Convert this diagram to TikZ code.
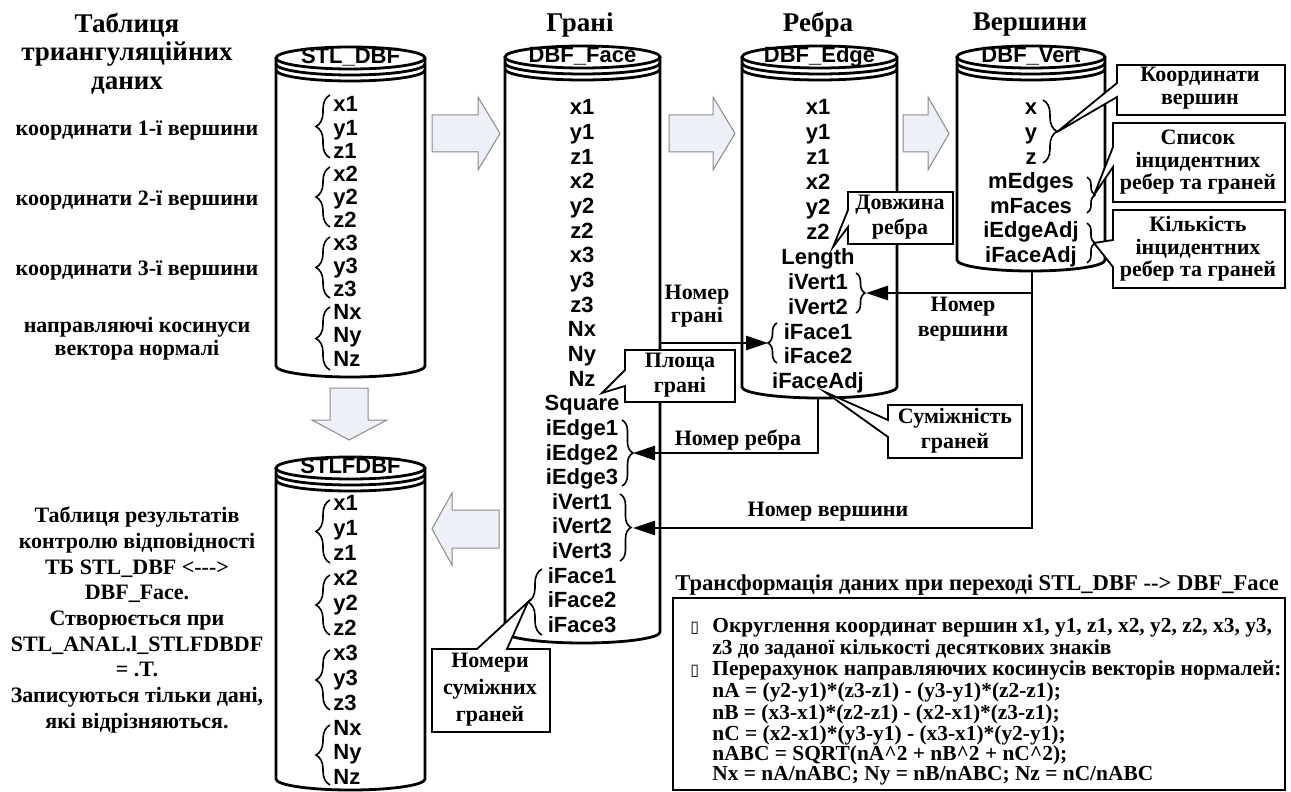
\documentclass[tikz,border=0pt]{standalone}
\usepackage{fontspec}
\setmainfont{Liberation Serif}
\setsansfont{Liberation Sans}
\newfontfamily\symfont{DejaVu Sans}
\usetikzlibrary{arrows.meta,decorations.pathreplacing}
\definecolor{blockfill}{HTML}{EDF1F7}
\definecolor{blockline}{HTML}{8A8A8A}
\tikzset{
  cyl/.style={line width=1.4pt},
  rowtxt/.style={font=\fontsize{11}{12}\selectfont\sffamily\bfseries, inner sep=0pt, text height=7.9pt, text depth=0pt},
  head/.style={font=\fontsize{13.5}{14.25}\selectfont\bfseries, inner sep=0pt, align=center},
  lbl/.style={font=\fontsize{11}{11.5}\selectfont\bfseries, inner sep=0pt, align=center},
  lblone/.style={font=\fontsize{11}{11.5}\selectfont\bfseries, inner sep=0pt, text height=7.3pt, text depth=0pt},
  ftxt/.style={font=\fontsize{10.7}{11}\selectfont\bfseries, inner sep=0pt, anchor=west, text height=7.1pt, text depth=0pt},
  callout/.style={draw, fill=white, line width=0.9pt, line join=miter},
  conn/.style={line width=1.4pt, -{Triangle[length=11pt,width=7pt]}},
  blockarrow/.style={draw=blockline, fill=blockfill, line width=0.5pt},
  brc/.style={decorate, decoration={brace, amplitude=#1}, line width=0.8pt},
}
\newcommand\dbcyl[6]{%
  \pgfmathsetmacro\cylcx{(#2+#3)/2}%
  \pgfmathsetmacro\cylrx{(#3-#2)/2}%
  \draw[cyl, fill=white] (#2,#4) -- (#2,#5) arc[start angle=180, end angle=0, x radius=\cylrx, y radius=11] -- (#3,#4);
  \draw[cyl, fill=white] (\cylcx,#4) ellipse [x radius=\cylrx, y radius=11];
  \draw[cyl] (#2,#4+6) arc[start angle=180, end angle=0, x radius=\cylrx, y radius=11];
  \draw[cyl] (#2,#4+12) arc[start angle=180, end angle=0, x radius=\cylrx, y radius=11];
  \node[rowtxt] (#1) at (\cylcx,#4-2) {#6};
}
\begin{document}
\begin{tikzpicture}[x=0.5pt,y=-0.5pt]
\useasboundingbox (0,0) rectangle (1291,792);

% ---------- block arrows ----------
\draw[blockarrow] (432,115) -- (478,115) -- (478,97) -- (500,133.5) -- (478,170) -- (478,152) -- (432,152) -- cycle;
\draw[blockarrow] (669,115) -- (713,115) -- (713,97) -- (735,133.5) -- (713,170) -- (713,152) -- (669,152) -- cycle;
\draw[blockarrow] (903,115) -- (928,115) -- (928,97) -- (949,133.5) -- (928,170) -- (928,152) -- (903,152) -- cycle;
\draw[blockarrow] (330,388) -- (368,388) -- (368,420) -- (387,420) -- (349,440) -- (312,420) -- (330,420) -- cycle;
\draw[blockarrow] (499,510) -- (452,510) -- (452,493) -- (432,529) -- (452,565) -- (452,548) -- (499,548) -- cycle;

% ---------- headings ----------
\node[head] (hTab) at (127,53.5) {Таблиця\\триангуляційних\\даних};
\node[head] (hFace) at (580,25) {Грані};
\node[head] (hEdge) at (818,25) {Ребра};
\node[head] (hVert) at (1030,25) {Вершини};

% ---------- side labels ----------
\node[lblone] (l1) at (137,128) {координати 1-ї вершини};
\node[lblone] (l2) at (137,198) {координати 2-ї вершини};
\node[lblone] (l3) at (137,268) {координати 3-ї вершини};
\node[lbl] (l4) at (137,338.5) {направляючі косинуси\\вектора нормалі};
\node[lbl, font=\fontsize{11}{12.85}\selectfont\bfseries] (lres) at (137,620)
  {Таблиця результатів\\контролю відповідності\\ТБ STL\_DBF <-{}-{}->\\DBF\_Face.\\Створюється при\\STL\_ANAL.l\_STLFDBDF\\= .T.\\Записуються тільки дані,\\які відрізняються.};

% ---------- connector end points ----------
\coordinate (edgebot) at (818,398);
\coordinate (vertbot) at (1032,271);
\coordinate (vertbranch) at (1032,293);
\coordinate (faceside) at (660,343);
\coordinate (tipFaceEdge) at (633,453);
\coordinate (tipFaceVert) at (633,528);
\coordinate (tipEdgeVert) at (866,293);
\coordinate (tipEdgeFace) at (768,343);

% ---------- cylinders ----------
\dbcyl{cSTL}{276}{425}{58}{366}{STL\_DBF}
\dbcyl{cFDBF}{276}{425}{468}{779}{STLFDBF}
\dbcyl{cFace}{505}{660}{57}{632}{DBF\_Face}
\dbcyl{cEdge}{742}{897}{57}{387}{DBF\_Edge}
\dbcyl{cVert}{957}{1105}{57}{260}{DBF\_Vert}

\draw[conn] (edgebot) |- (tipFaceEdge);
\draw[conn] (vertbot) |- (tipFaceVert);
\draw[conn] (vertbranch) -- (tipEdgeVert);
\draw[conn] (faceside) -- (tipEdgeFace);

% ---------- rows ----------
\foreach \t [count=\i from 0] in {x1,y1,z1,x2,y2,z2,x3,y3,z3,Nx,Ny,Nz}
  \node[rowtxt, anchor=west] (stl\i) at (333,104+23.1*\i) {\t};
\foreach \t [count=\i from 0] in {x1,y1,z1,x2,y2,z2,x3,y3,z3,Nx,Ny,Nz}
  \node[rowtxt, anchor=west] (fdbf\i) at (333,503+24.9*\i) {\t};
\foreach \t [count=\i from 0] in {x1,y1,z1,x2,y2,z2,x3,y3,z3,Nx,Ny,Nz,Square,iEdge1,iEdge2,iEdge3,iVert1,iVert2,iVert3,iFace1,iFace2,iFace3}
  \node[rowtxt] (face\i) at (582,107+24.65*\i) {\t};
\foreach \t [count=\i from 0] in {x1,y1,z1,x2,y2,z2,Length,iVert1,iVert2,iFace1,iFace2,iFaceAdj}
  \node[rowtxt] (edge\i) at (818,107+24.9*\i) {\t};
\foreach \t [count=\i from 0] in {x,y,z,mEdges,mFaces,iEdgeAdj,iFaceAdj}
  \node[rowtxt] (vert\i) at (1031,107+24.6*\i) {\t};

% ---------- braces ----------
\draw[brc=7pt] (330,158) -- (330,95);
\draw[brc=7pt] (330,227) -- (330,167);
\draw[brc=7pt] (330,298) -- (330,237);
\draw[brc=7pt] (330,370) -- (330,307);
\draw[brc=7pt] (330,563) -- (330,500);
\draw[brc=7pt] (330,635) -- (330,575);
\draw[brc=7pt] (330,710) -- (330,650);
\draw[brc=7pt] (330,785) -- (330,725);
\draw[brc=5.5pt] (622,420) -- (622,486);
\draw[brc=5.5pt] (620,494) -- (620,561);
\draw[brc=7pt] (542,635) -- (542,569);
\draw[brc=4.5pt] (856,273) -- (856,313);
\draw[brc=4.5pt] (777,363) -- (777,323);
\draw[brc=7pt] (1043,100) -- (1043,163);
\draw[brc=4pt] (1087,177) -- (1087,213);
\draw[brc=4pt] (1087,223) -- (1087,263);

% ---------- callouts ----------
\draw[callout] (1117,65) -- (1285,65) -- (1285,115) -- (1117,115) -- (1117,97) -- (1057,132) -- (1117,83) -- cycle;
\node[lbl] (cCoord) at (1200,88.5) {Координати\\вершин};
\draw[callout] (1113,123) -- (1285,123) -- (1285,202) -- (1113,202) -- (1113,167) -- (1094,195) -- (1113,147) -- cycle;
\node[lbl, font=\fontsize{11}{11.25}\selectfont\bfseries] (cList) at (1198,162.5) {Список\\інцидентних\\ребер та граней};
\draw[callout] (1113,210) -- (1285,210) -- (1285,288) -- (1113,288) -- (1113,267) -- (1094,243) -- (1113,240) -- cycle;
\node[lbl, font=\fontsize{11}{11.25}\selectfont\bfseries] (cCount) at (1198,249) {Кількість\\інцидентних\\ребер та граней};
\draw[callout] (848,192) -- (953,192) -- (953,244) -- (848,244) -- (848,227) -- (833,247) -- (848,210) -- cycle;
\node[lbl, font=\fontsize{11}{12.5}\selectfont\bfseries] (cLen) at (900,217.5) {Довжина\\ребра};
\draw[callout] (625,350) -- (735,350) -- (735,402) -- (625,402) -- (625,386) -- (602,393) -- (625,370) -- cycle;
\node[lbl, font=\fontsize{11}{12.5}\selectfont\bfseries] (cSq) at (680,375.5) {Площа\\грані};
\draw[callout] (888,405) -- (1022,405) -- (1022,458) -- (888,458) -- (888,437) -- (825,392) -- (888,420) -- cycle;
\node[lbl, font=\fontsize{11}{12.5}\selectfont\bfseries] (cAdj) at (955,430.5) {Суміжність\\граней};
\draw[callout] (432,649) -- (477,649) -- (528,602) -- (507,649) -- (550,649) -- (550,732) -- (432,732) -- cycle;
\node[lbl, font=\fontsize{11}{13.5}\selectfont\bfseries] (cNbr) at (490,690) {Номери\\суміжних\\граней};

% ---------- connector labels ----------
\node[lbl] (tFace) at (697,306.5) {Номер\\грані};
\node[lblone] (tEdge) at (738,438) {Номер ребра};
\node[lbl, font=\fontsize{11}{12.5}\selectfont\bfseries] (tVert1) at (963,319.5) {Номер\\вершини};
\node[lblone] (tVert2) at (828,509) {Номер вершини};

% ---------- transformation box ----------
\node[ftxt, font=\fontsize{11.3}{12}\selectfont\bfseries] (fTitle) at (675,583) {Трансформація даних при переході STL\_DBF -{}-> DBF\_Face};
\draw[line width=1.2pt] (673,598) rectangle (1285,790);
\node[ftxt] (b1) at (690,625) {{\symfont\fontsize{8}{9}\selectfont ▯}};
\node[ftxt] (f1) at (712,625) {Округлення координат вершин x1, y1, z1, x2, y2, z2, x3, y3,};
\node[ftxt] (f2) at (712,647) {z3 до заданої кількості десяткових знаків};
\node[ftxt] (b2) at (690,668) {{\symfont\fontsize{8}{9}\selectfont ▯}};
\node[ftxt] (f3) at (712,668) {Перерахунок направляючих косинусів векторів нормалей:};
\node[ftxt] (f4) at (712,690) {nA = (y2-y1)*(z3-z1) - (y3-y1)*(z2-z1);};
\node[ftxt] (f5) at (712,712) {nB = (x3-x1)*(z2-z1) - (x2-x1)*(z3-z1);};
\node[ftxt] (f6) at (712,733) {nC = (x2-x1)*(y3-y1) - (x3-x1)*(y2-y1);};
\node[ftxt] (f7) at (712,753) {nABC = SQRT(nA\textasciicircum2 + nB\textasciicircum2 + nC\textasciicircum2);};
\node[ftxt] (f8) at (712,773) {Nx = nA/nABC; Ny = nB/nABC; Nz = nC/nABC};
\end{tikzpicture}
\end{document}
